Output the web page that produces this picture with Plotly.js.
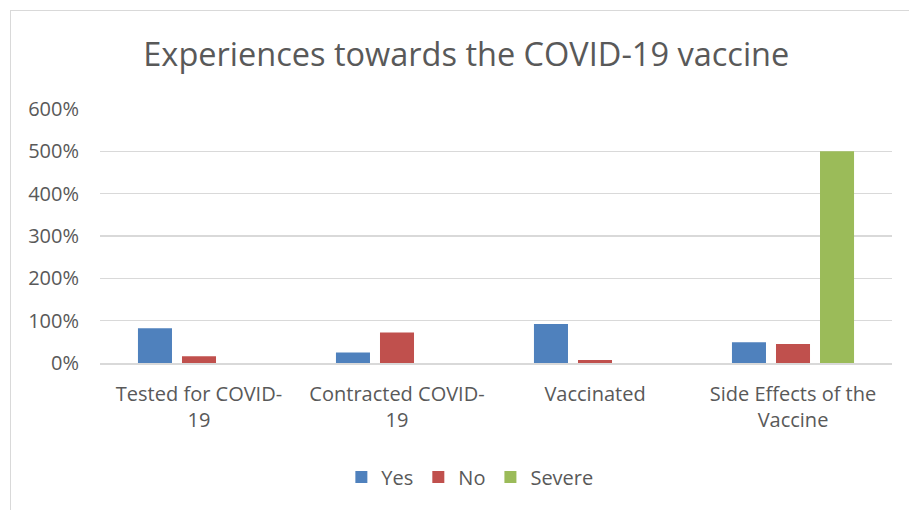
<!DOCTYPE html>
<html>
<head>
<meta charset="utf-8">
<script src="https://cdn.plot.ly/plotly-3.0.1.min.js"></script>
<style>
html,body{margin:0;padding:0;background:#fff;}
#frame{position:absolute;left:10px;top:10px;width:910px;height:510px;border:1px solid #d9d9d9;box-sizing:border-box;}
#chart{position:absolute;left:0;top:0;width:909px;height:510px;}
</style>
</head>
<body>
<div id="frame"></div>
<div id="chart"></div>
<script>
var categories = ["Tested for COVID-<br>19", "Contracted COVID-<br>19", "Vaccinated", "Side Effects of the<br>Vaccine"];
var yesValues = [82, 25, 92, 49];
var noValues = [16, 72, 7, 45];
var severeValues = [null, null, null, 500];
var tickValues = [0, 100, 200, 300, 400, 500, 600];
var tickLabels = ["0%", "100%", "200%", "300%", "400%", "500%", "600%"];

var font = "Open Sans, Liberation Sans, sans-serif";
var traces = [
  {type: "bar", name: "Yes", x: categories, y: yesValues, marker: {color: "#4f81bd"}},
  {type: "bar", name: "No", x: categories, y: noValues, marker: {color: "#c0504d"}},
  {type: "bar", name: "Severe", x: categories, y: severeValues, marker: {color: "#9bbb59"}}
];
var layout = {
  width: 909, height: 510,
  paper_bgcolor: "rgba(0,0,0,0)", plot_bgcolor: "rgba(0,0,0,0)",
  margin: {l: 100, r: 17, t: 109, b: 147},
  barmode: "group", bargap: 0.333, bargroupgap: 0.227,
  title: {text: "Experiences towards the COVID-19 vaccine", x: 0.513, xanchor: "center", y: 0.892, yanchor: "middle",
          font: {family: font, size: 32.5, color: "#595959"}},
  font: {family: font, color: "#595959", size: 20},
  xaxis: {showgrid: false, showline: true, linecolor: "#d9d9d9", linewidth: 1.5, ticks: "", ticklabelstandoff: 12,
          tickfont: {family: font, size: 20, color: "#595959"}, fixedrange: true},
  yaxis: {range: [0, 600], tickvals: tickValues, ticktext: tickLabels, showgrid: true, gridcolor: "#d9d9d9", gridwidth: 1.5,
          zeroline: false, showline: false, ticks: "", ticklabelstandoff: 20,
          tickfont: {family: font, size: 20, color: "#595959"}},
  legend: {orientation: "h", x: 0.467, xanchor: "center", y: -0.449, yanchor: "middle",
           font: {family: font, size: 20, color: "#595959"}, itemwidth: 20, traceorder: "normal"},
  showlegend: true
};
Plotly.newPlot("chart", traces, layout, {displayModeBar: false, staticPlot: true});
</script>
</body>
</html>
